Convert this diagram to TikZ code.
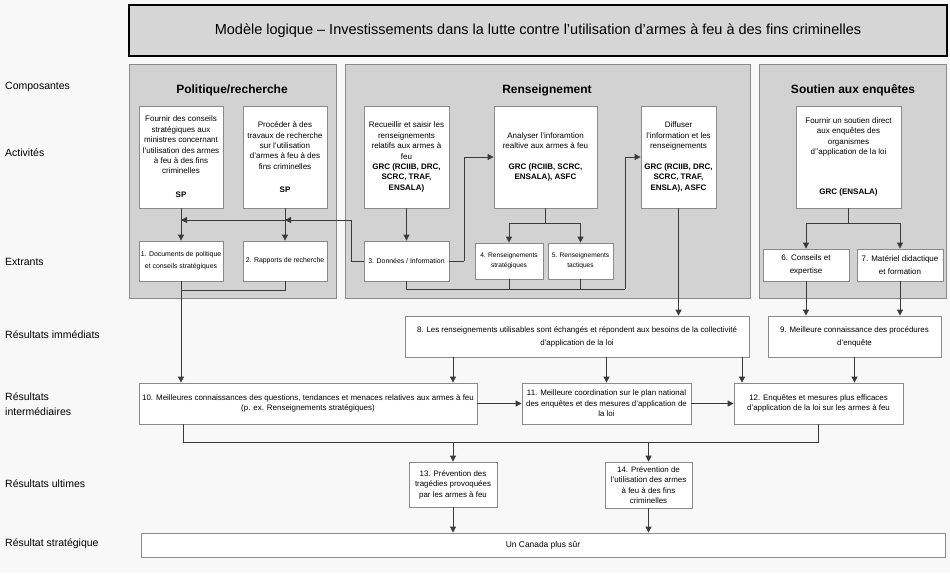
\documentclass[tikz,border=0pt]{standalone}
\usepackage{fontspec}
\setmainfont{Liberation Sans}
\usetikzlibrary{arrows.meta}
\definecolor{bg}{HTML}{F8F8F8}
\definecolor{panelc}{HTML}{D2D2D2}
\definecolor{boxline}{HTML}{8A8A8A}
\definecolor{wirec}{HTML}{3A3A3A}
\definecolor{titlefill}{HTML}{D6D6D6}
\newcommand\mybox[7]{\node[#5, minimum width={(#3)-(#1)}, minimum height={(#4)-(#2)}] (#6) at ({((#1)+(#3))/2},{((#2)+(#4))/2}) {#7};}
\tikzset{
  box/.style={draw=boxline, fill=white, line width=0.8pt, inner sep=0pt, align=center, text=black},
  panel/.style={draw=boxline, fill=panelc, line width=0.8pt, inner sep=0pt},
  titlebox/.style={draw=black, fill=titlefill, line width=2.6pt, inner sep=0pt, font=\fontsize{14.5}{16}\selectfont},
  wire/.style={draw=wirec, line width=0.8pt},
  arr/.style={wire, -{Triangle[length=6pt, width=6pt]}},
  act/.style={box, font=\fontsize{8}{10.4}\selectfont},
  outa/.style={box, font=\fontsize{6.9}{12.3}\selectfont},
  outb/.style={box, font=\fontsize{6.6}{10}\selectfont},
  outc/.style={box, font=\fontsize{8}{12.3}\selectfont},
  res/.style={box, font=\fontsize{7.9}{13}\selectfont},
  resb/.style={box, font=\fontsize{7.9}{10.5}\selectfont},
  ult/.style={box, font=\fontsize{7.9}{10.5}\selectfont},
  ptitle/.style={font=\bfseries\fontsize{12}{14}\selectfont, inner sep=0pt},
  lab/.style={anchor=west, align=left, inner sep=0pt, font=\fontsize{10.5}{15}\selectfont}
}
\begin{document}
\begin{tikzpicture}[x=1pt, y=-1pt]
\fill[bg] (0,0) rectangle (950,573);
\useasboundingbox (0,0) rectangle (950,573);

% title
\mybox{129}{5}{947}{56}{titlebox}{title}{Modèle logique – Investissements dans la lutte contre l’utilisation d’armes à feu à des fins criminelles}

% panels
\mybox{129}{64}{336}{298}{panel}{p1}{}
\mybox{345}{64}{750}{298}{panel}{p2}{}
\mybox{759}{64}{946}{298}{panel}{p3}{}
\node[ptitle] (t1) at (232,90) {Politique/recherche};
\node[ptitle] (t2) at (547,90) {Renseignement};
\node[ptitle] (t3) at (853,90) {Soutien aux enquêtes};

% left labels
\node[lab] (l1) at (5,87) {Composantes};
\node[lab] (l2) at (5,153) {Activités};
\node[lab] (l3) at (5,262) {Extrants};
\node[lab] (l4) at (5,335) {Résultats immédiats};
\node[lab] (l5) at (5,404) {Résultats\\intermédiaires};
\node[lab] (l6) at (5,484) {Résultats ultimes};
\node[lab] (l7) at (5,544) {Résultat stratégique};

% activities
\mybox{139}{106}{223}{208}{act}{a1}{Fournir des conseils\\stratégiques aux\\ministres concernant\\l’utilisation des armes\\à feu à des fins\\criminelles\\[13.5pt]\textbf{SP}}
\mybox{243}{106}{327}{208}{act}{a2}{Procéder à des\\travaux de recherche\\sur l’utilisation\\d’armes à feu à des\\fins criminelles\\[12.5pt]\textbf{SP}}
\mybox{364}{106}{449}{208}{act}{a3}{Recueillir et saisir les\\renseignements\\relatifs aux armes à\\feu\\\textbf{GRC (RCIIB, DRC,}\\\textbf{SCRC, TRAF,}\\\textbf{ENSALA)}}
\mybox{494}{106}{597}{208}{act}{a4}{Analyser l’inforamtion\\realtive aux armes à feu\\[10.5pt]\textbf{GRC (RCIIB, SCRC,}\\\textbf{ENSALA), ASFC}}
\mybox{641}{106}{716}{208}{act}{a5}{Diffuser\\l’information et les\\renseignements\\[10.5pt]\textbf{GRC (RCIIB, DRC,}\\\textbf{SCRC, TRAF,}\\\textbf{ENSLA), ASFC}}
\mybox{796}{106}{901}{208}{act}{a6}{Fournir un soutien direct\\aux enquêtes des\\organismes\\d’’application de la loi\\[30pt]\textbf{GRC (ENSALA)}}

% outputs
\mybox{139}{241}{223}{281}{outa}{o1}{1. Documents de politique\\et conseils stratégiques}
\mybox{243}{241}{327}{281}{outa}{o2}{2. Rapports de recherche}
\mybox{364}{241}{449}{281}{outa}{o3}{3. Données / Information}
\mybox{475}{243}{543}{279}{outb}{o4}{4. Renseignements\\stratégiques}
\mybox{548}{243}{613}{279}{outb}{o5}{5. Renseignements\\tactiques}
\mybox{763}{249}{849}{281}{outc}{o6}{6. Conseils et\\expertise}
\mybox{857}{249}{943}{281}{outc}{o7}{7. Matériel didactique\\et formation}

% results
\mybox{405}{316}{749}{357}{res}{r8}{8. Les renseignements utilisables sont échangés et répondent aux besoins de la collectivité\\d’application de la loi}
\mybox{768}{316}{941}{357}{res}{r9}{9. Meilleure connaissance des procédures\\d’enquête}
\mybox{139}{383}{477}{424}{box, font=\fontsize{7.95}{9.7}\selectfont}{r10}{10. Meilleures connaissances des questions, tendances et menaces relatives aux armes à feu\\(p. ex. Renseignements stratégiques)}
\mybox{522}{383}{691}{424}{resb}{r11}{11. Meilleure coordination sur le plan national\\des enquêtes et des mesures d’application de\\la loi}
\mybox{734}{383}{903}{424}{resb}{r12}{12. Enquêtes et mesures plus efficaces\\d’application de la loi sur les armes à feu}
\mybox{409}{462}{497}{507}{ult}{r13}{13. Prévention des\\tragédies provoquées\\par les armes à feu}
\mybox{605}{462}{692}{508}{ult}{r14}{14. Prévention de\\l’utilisation des armes\\à feu à des fins\\criminelles}
\mybox{141}{533}{945}{557}{box, font=\fontsize{8.4}{9}\selectfont}{can}{Un Canada plus sûr}

% helper coordinates
\coordinate (j1) at (181,220);
\coordinate (j2) at (285,220);
\coordinate (k3) at (351,220);
\coordinate (e3) at (464,261);
\coordinate (b4) at (545.5,223);
\coordinate (s3) at (406.5,289);
\coordinate (s5) at (625,289);
\coordinate (b6) at (848.5,223);
\coordinate (q2) at (285,290);
\coordinate (q1) at (181,290);
\coordinate (u10) at (183,442);
\coordinate (u12) at (818.5,442);
\coordinate (u13) at (453,442);
\coordinate (u14) at (648.5,442);

% activity -> output
\draw[arr] (a1) -- (o1);
\draw[arr] (a2) -- (o2);
\draw[arr] (a3) -- (o3);
\draw[wire] (o3.west) -| (k3);
\draw[arr] (k3) -- (j2);
\draw[arr] (j2) -- (j1);
\draw[wire] (o3.east) -- (e3);
\draw[arr] (e3) |- (a4.west);
\draw[wire] (a4.south) -- (b4);
\draw[arr] (b4) -| (o4.north);
\draw[arr] (b4) -| (o5.north);
\draw[wire] (o3.south) -- (s3) -- (s5);
\draw[arr] (s5) |- (a5.west);
\draw[wire] (o4.south) -- (o4.south |- s3);
\draw[wire] (o5.south) -- (o5.south |- s3);
\draw[wire] (a6.south) -- (b6);
\draw[arr] (b6) -| (o6.north);
\draw[arr] (b6) -| (o7.north);

% outputs -> results
\draw[arr] (o1.south) -- (o1.south |- r10.north);
\draw[wire] (o2.south) -- (q2) -- (q1);
\draw[arr] (a5.south) -- (a5.south |- r8.north);
\draw[arr] (o6.south) -- (o6.south |- r9.north);
\draw[arr] (o7.south) -- (o7.south |- r9.north);
\draw[arr] (r8.south -| u13) -- (r10.north -| u13);
\draw[arr] (r8.south -| r11) -- (r11.north);
\draw[arr] (r8.south -| 742,0) -- (r12.north -| 742,0);
\draw[arr] (r9.south) -- (r9.south |- r12.north);
\draw[arr] (r10.east) -- (r11.west);
\draw[arr] (r11.east) -- (r12.west);
\draw[wire] (r10.south -| u10) -- (u10) -- (u12) -- (r12.south);
\draw[arr] (u13) -- (r13.north);
\draw[arr] (u14) -- (r14.north);
\draw[arr] (r13.south) -- (r13.south |- can.north);
\draw[arr] (r14.south) -- (r14.south |- can.north);
\end{tikzpicture}
\end{document}
